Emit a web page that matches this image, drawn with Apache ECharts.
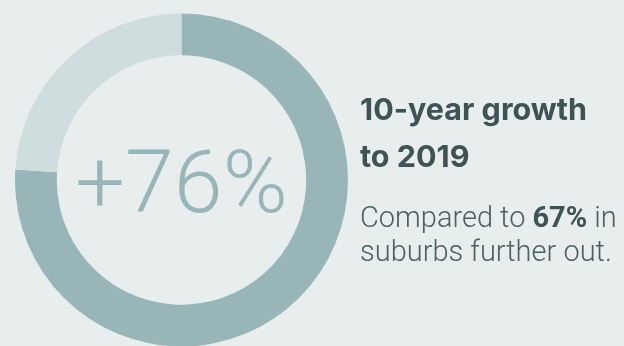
<!DOCTYPE html>
<html>
<head>
<meta charset="utf-8">
<script src="https://cdn.jsdelivr.net/npm/echarts@6/dist/echarts.min.js"></script>
<style>
  html, body { margin: 0; padding: 0; background: #e8eeee; }
  #chart { width: 624px; height: 346px; }
</style>
</head>
<body>
<div id="chart"></div>
<script>
// Ring split: growth share vs. the rest of the circle
const segments = ['Growth', 'Remainder'];
const shares = [76, 24];
const segmentColors = ['#98b5b7', '#cfdddf'];

// Side copy
const headlineLines = ['10-year growth', 'to 2019'];
const comparisonPct = 67;
const comparisonPrefix = 'Compared to ';
const comparisonSuffix = ' in';
const comparisonLine2 = 'suburbs further out.';

const BODY_FONT = 'Roboto, "Noto Sans", sans-serif';
const HEAD_FONT = 'Inter, Roboto, sans-serif';

const RING_CENTER = [181.5, 180];

const chart = echarts.init(document.getElementById('chart'), null, { renderer: 'canvas' });

chart.setOption({
  backgroundColor: '#e8eeee',
  animation: false,
  series: [{
    type: 'pie',
    center: RING_CENTER,
    radius: [124.7, 166.5],
    startAngle: 90,
    clockwise: true,
    silent: true,
    emphasis: { disabled: true },
    label: { show: false },
    labelLine: { show: false },
    data: segments.map((name, i) => ({
      name,
      value: shares[i],
      itemStyle: { color: segmentColors[i] }
    }))
  }],
  graphic: [
    {
      // growth figure in the middle of the ring, taken from the growth share
      type: 'text',
      x: RING_CENTER[0],
      y: RING_CENTER[1] + 10,
      style: {
        text: '+' + shares[0] + '%',
        font: '300 88px ' + BODY_FONT,
        align: 'center',
        verticalAlign: 'middle',
        fill: '#98b5b7'
      }
    },
    {
      type: 'text',
      left: 360,
      top: 87,
      style: {
        text: headlineLines.join('\n'),
        font: '700 30.5px ' + HEAD_FONT,
        lineHeight: 47.5,
        fill: '#3f5254'
      }
    },
    {
      type: 'text',
      left: 360,
      top: 203,
      style: {
        text: comparisonPrefix + '{b|' + comparisonPct + '%}' + comparisonSuffix + '\n' + comparisonLine2,
        font: '300 29px ' + BODY_FONT,
        lineHeight: 34,
        fill: '#4d5f61',
        rich: {
          b: {
            fontFamily: BODY_FONT,
            fontWeight: 700,
            fontSize: 29,
            lineHeight: 34,
            fill: '#3f5254'
          }
        }
      }
    }
  ]
});
</script>
</body>
</html>
